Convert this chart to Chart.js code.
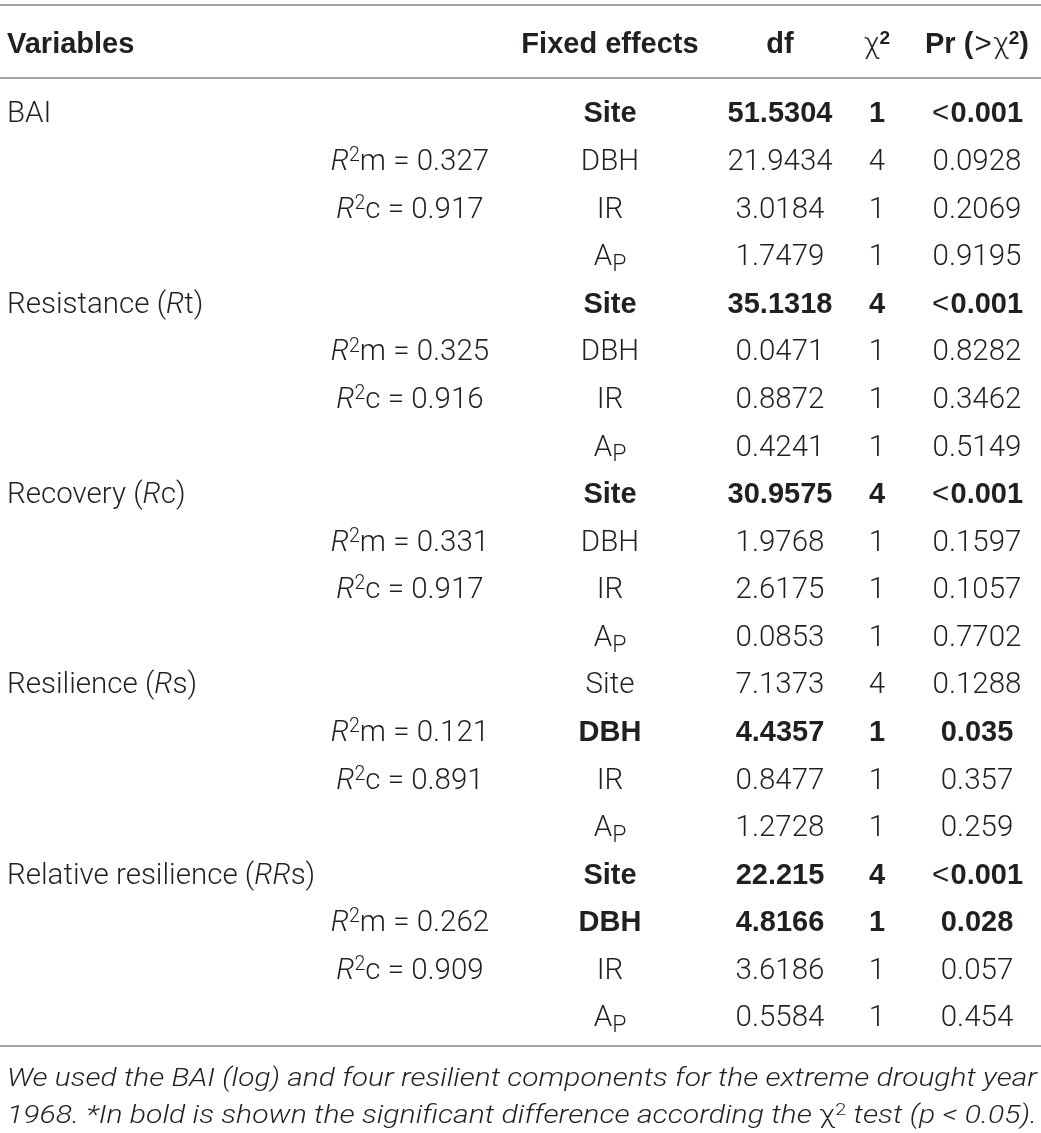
<!DOCTYPE html>
<html>
<head>
<meta charset="utf-8">
<script src="https://cdn.jsdelivr.net/npm/chart.js@4/dist/chart.umd.min.js"></script>
<style>
  html, body { margin: 0; padding: 0; background: #fff; }
  canvas { display: block; }
</style>
</head>
<body>
<canvas id="table-chart" width="1041" height="1133"></canvas>
<script>
// markup in strings: ` toggles italic, ^ superscript, _ subscript, ~ normal weight
let headers = ["Variables", "", "Fixed effects", "df", "~χ~^2^", "Pr (~>~~χ~^2^)"];
let variables = ["BAI", "Resistance (`R`t)", "Recovery (`R`c)", "Resilience (`R`s)", "Relative resilience (`RR`s)"];
let r2m = ["0.327", "0.325", "0.331", "0.121", "0.262"];
let r2c = ["0.917", "0.916", "0.917", "0.891", "0.909"];
let effects = ["Site", "DBH", "IR", "A_P_"];
let dfValues = [
  ["51.5304", "21.9434", "3.0184", "1.7479"],
  ["35.1318", "0.0471", "0.8872", "0.4241"],
  ["30.9575", "1.9768", "2.6175", "0.0853"],
  ["7.1373", "4.4357", "0.8477", "1.2728"],
  ["22.215", "4.8166", "3.6186", "0.5584"],
];
let chiValues = [
  ["1", "4", "1", "1"],
  ["4", "1", "1", "1"],
  ["4", "1", "1", "1"],
  ["4", "1", "1", "1"],
  ["4", "1", "1", "1"],
];
let prValues = [
  ["~<~0.001", "0.0928", "0.2069", "0.9195"],
  ["~<~0.001", "0.8282", "0.3462", "0.5149"],
  ["~<~0.001", "0.1597", "0.1057", "0.7702"],
  ["0.1288", "0.035", "0.357", "0.259"],
  ["~<~0.001", "0.028", "0.057", "0.454"],
];
let significant = [
  [true, false, false, false],
  [true, false, false, false],
  [true, false, false, false],
  [false, true, false, false],
  [true, true, false, false],
];
let footnotes = [
  "We used the BAI (log) and four resilient components for the extreme drought year",
  "1968. *In bold is shown the significant difference according the `χ^2^` test (p < 0.05).",
];

// layout (in scale units: x in px, y in table rows)
var colX = [7, 410, 610, 780, 877, 977];
var colAlign = ["left", "center", "center", "center", "center", "center"];
var headerRow = -1.47;
var ruleRows = [-2.25, -0.72, 19.63];
var footRows = [20.28, 21.06];
var LIGHT = "Roboto";
var BOLD = "'Liberation Sans', Arial, sans-serif";
var SIZE = 29.5;
var BOLD_SIZE = 29;

// build cells from the arrays
var cells = [];
variables.forEach((v, g) => {
  for (var k = 0; k < 4; k++) {
    var row = g * 4 + k;
    var b = significant[g][k];
    if (k == 0) cells.push({ col: 0, row: row, text: v, bold: false });
    if (k == 1) cells.push({ col: 1, row: row, text: "`R`^2^m = " + r2m[g], bold: false });
    if (k == 2) cells.push({ col: 1, row: row, text: "`R`^2^c = " + r2c[g], bold: false });
    cells.push({ col: 2, row: row, text: effects[k], bold: b });
    cells.push({ col: 3, row: row, text: dfValues[g][k], bold: b });
    cells.push({ col: 4, row: row, text: chiValues[g][k], bold: b });
    cells.push({ col: 5, row: row, text: prValues[g][k], bold: b });
  }
});
headers.forEach((h, c) => {
  if (h) cells.push({ col: c, row: headerRow, text: h, bold: true });
});

function parseRich(str) {
  var segs = [], st = { it: false, sup: false, sub: false, nw: false }, buf = "";
  function flush() { if (buf) segs.push(Object.assign({ text: buf }, st)); buf = ""; }
  for (var ch of str) {
    if (ch == "`") { flush(); st.it = !st.it; }
    else if (ch == "^") { flush(); st.sup = !st.sup; }
    else if (ch == "_") { flush(); st.sub = !st.sub; }
    else if (ch == "~") { flush(); st.nw = !st.nw; }
    else buf += ch;
  }
  flush();
  return segs;
}

function isSym(s) { return s.text == "<" || s.text == ">"; }

function segFont(s, size, bold, italic) {
  var sz = s.sup ? size * 0.66 : s.sub ? size * 0.78 : size;
  var it = italic ? !s.it : s.it;
  if (isSym(s) && !italic) return "400 " + sz.toFixed(1) + "px " + BOLD;
  if (bold && !s.nw) return (it ? "italic " : "") + "700 " + (sz * BOLD_SIZE / SIZE).toFixed(1) + "px " + BOLD;
  return (it ? "italic " : "") + "300 " + sz.toFixed(1) + "px " + LIGHT;
}

function drawRich(ctx, str, x, cy, align, size, bold, italic, fitWidth) {
  var segs = parseRich(str);
  var total = 0;
  segs.forEach(s => {
    ctx.font = segFont(s, size, bold, italic);
    s.pad = isSym(s) && !italic ? size * 0.04 : 0;
    s.w = ctx.measureText(s.text).width + 2 * s.pad;
    total += s.w;
  });
  var sx = 1;
  if (fitWidth) sx = fitWidth / total;
  var start = align == "left" ? x : x - total * sx / 2;
  var base = cy + size * 0.355;
  ctx.save();
  ctx.translate(start, 0);
  ctx.scale(sx, 1);
  var cx = 0;
  segs.forEach(s => {
    ctx.font = segFont(s, size, bold, italic);
    var dy = s.sup ? -size * 0.3 : s.sub ? size * 0.2 : 0;
    ctx.fillText(s.text, cx + s.pad, base + dy);
    cx += s.w;
  });
  ctx.restore();
}

var tablePlugin = {
  id: "tableText",
  beforeDatasetsDraw(chart) {
    var ctx = chart.ctx, x = chart.scales.x, y = chart.scales.y;
    ctx.save();
    ctx.strokeStyle = "#a3a3a3";
    ctx.lineWidth = 2;
    ruleRows.forEach(r => {
      var py = Math.round(y.getPixelForValue(r));
      ctx.beginPath();
      ctx.moveTo(x.getPixelForValue(0), py);
      ctx.lineTo(x.getPixelForValue(1041), py);
      ctx.stroke();
    });
    ctx.restore();
  },
  afterDatasetsDraw(chart) {
    var ctx = chart.ctx, y = chart.scales.y;
    ctx.save();
    ctx.fillStyle = "#231f20";
    ctx.textBaseline = "alphabetic";
    ctx.textAlign = "left";
    var meta = chart.getDatasetMeta(0);
    cells.forEach((c, i) => {
      var pt = meta.data[i];
      drawRich(ctx, c.text, pt.x, pt.y, colAlign[c.col], SIZE, c.bold, false);
    });
    footnotes.forEach((f, i) => {
      drawRich(ctx, f, 7, y.getPixelForValue(footRows[i]), "left", 25, false, true, 1030);
    });
    ctx.restore();
  }
};

new Chart(document.getElementById("table-chart"), {
  type: "scatter",
  data: {
    datasets: [{
      data: cells.map(c => ({ x: colX[c.col], y: c.row })),
      pointRadius: 0,
      pointHoverRadius: 0,
    }]
  },
  options: {
    responsive: false,
    animation: false,
    devicePixelRatio: 1,
    layout: { padding: 0 },
    plugins: { legend: { display: false }, tooltip: { enabled: false } },
    events: [],
    scales: {
      x: { type: "linear", display: false, min: 0, max: 1041 },
      y: { type: "linear", display: false, min: -2.354, max: 21.46, reverse: true },
    }
  },
  plugins: [tablePlugin]
});
</script>
</body>
</html>
